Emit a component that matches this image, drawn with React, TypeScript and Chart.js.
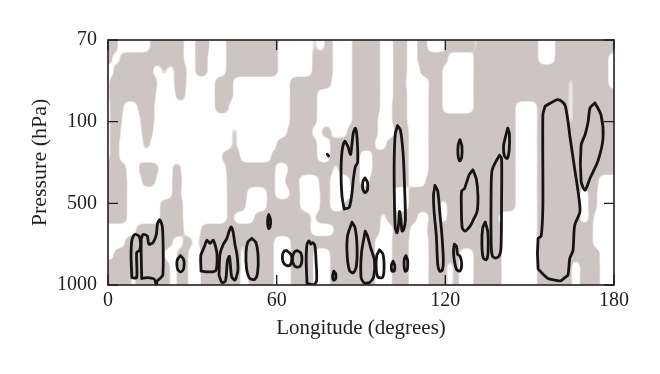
import React, { useEffect, useRef } from 'react';
import { Chart, registerables } from 'chart.js';

Chart.register(...registerables);

// ---------- data ----------
const lonTicks = [0, 60, 120, 180];
const pressureLabels = ['1000', '500', '100', '70']; // level 0..3 (bottom to top)

// shaded field: each row spans [top, top - 0.15] in level units; values are longitude intervals [a,b,a,b,...]
const rowTops = [3, 2.85, 2.7, 2.55, 2.4, 2.25, 2.1, 1.95, 1.8, 1.65, 1.5, 1.35, 1.2, 1.05, 0.9, 0.75, 0.6, 0.45, 0.3, 0.15];
const rowDepth = 0.15;
const grayRows: number[][] = [
  [0, 3.5, 15, 27, 31, 36, 42, 60.5, 72.6, 74.4, 77, 80, 86.8, 96.8, 101.4, 106.4, 110, 113.5, 120, 130, 131.6, 153, 159, 180],
  [0, 1.5, 4.3, 27, 31, 35.5, 42, 60.5, 72.6, 80, 86.8, 96.8, 101.4, 106.4, 110, 121, 130, 153, 159, 166, 167, 178],
  [2, 16, 19, 21, 23.5, 28, 31, 35.5, 42, 60.5, 72.6, 80, 86.8, 96.8, 101.4, 106.4, 111, 119, 130, 166, 167, 178],
  [0.5, 17.5, 23.5, 27.8, 38, 44.5, 64.7, 79.5, 86.8, 96.8, 101.4, 106, 114.2, 119, 130, 163.7, 165.5, 178],
  [0.5, 17, 24, 27.5, 38, 44.5, 64.7, 74.4, 86.8, 96.8, 101.4, 106.4, 114, 119, 130, 163.7, 165.5, 180],
  [0.7, 5.5, 10.5, 16.5, 38, 43, 64.7, 74.4, 86.8, 96.8, 101, 106.4, 114, 119, 130, 145, 152.6, 163.7, 165.5, 180],
  [0.7, 5, 11.5, 16.5, 64.7, 74.4, 86.8, 96, 101, 106.4, 114, 145, 152.6, 163.7, 165.5, 180],
  [0.7, 4.5, 12, 16, 44, 46, 63.7, 72.6, 76, 79.5, 85, 96, 102, 107, 114, 145, 152.6, 180],
  [0.7, 4, 12.5, 15, 44, 46, 60, 74.4, 79, 95, 99, 107, 114, 145, 152.6, 180],
  [0.7, 4, 9.5, 11, 40.5, 47, 58, 74.4, 79, 89.6, 94, 107, 114, 145, 152.6, 180],
  [0, 6.5, 11, 18, 23, 26, 42, 59.5, 64, 80, 82, 89.6, 94, 107, 114, 145, 152.6, 180],
  [0, 6.8, 12, 17, 22.8, 26.3, 42.3, 59.4, 63, 68, 75, 79, 86, 89.5, 93, 107, 113, 145, 152.6, 174.5],
  [0, 6.8, 22.8, 26, 42.3, 49.5, 56.5, 59.4, 64.7, 68.3, 75.4, 79, 86.8, 101.4, 107, 145, 152.6, 167.9, 170.8, 174],
  [0, 6.8, 18.5, 26.7, 42.3, 49, 56.5, 68.3, 75.4, 79, 84, 101.4, 107, 118, 120.6, 145, 152.6, 167.9, 170.8, 174],
  [0, 6.8, 18.5, 26.7, 42.3, 44.8, 52, 72, 74, 96.8, 99, 110, 114, 118, 120.6, 139, 152.6, 167.9, 170.8, 173],
  [10, 27, 33, 72, 80.4, 96.8, 101.4, 107.4, 113.5, 140, 152.6, 172.5],
  [6, 23, 26.7, 30, 32.4, 47, 48.4, 59, 65, 95, 101, 107, 114, 140, 152.6, 172.5],
  [2, 20, 24.5, 28.5, 33, 47, 49, 59, 65, 73, 79, 95, 101, 107, 114, 125, 130, 140, 152.6, 175],
  [0, 22, 24.5, 28.5, 33, 47, 49, 59, 65, 73, 79, 95, 101, 107, 114, 120.5, 122.7, 125, 130, 140, 152.6, 165, 167.9, 175],
  [0, 8, 10, 22, 24.5, 28.5, 33, 47, 50, 59, 65, 73, 79, 95, 101, 107, 114, 120.5, 122.7, 125, 130, 140, 152.6, 165, 167.9, 175],
];

// contours: [longitude, level]
const c1 = [[8.5, 0.09], [8.2, 0.35], [8.5, 0.55], [9.5, 0.62], [11, 0.6], [11.6, 0.5], [11.2, 0.42], [10.2, 0.4], [10.2, 0.09], [8.5, 0.09]];
const c2 = [[12, 0.08], [11.8, 0.55], [12.5, 0.62], [14, 0.6], [14.5, 0.5], [16, 0.52], [17.2, 0.62], [17.6, 0.75], [18.4, 0.8], [19.3, 0.72], [19.6, 0.5], [19.5, 0.12], [18.5, 0.08], [17.5, 0.05], [17.2, 0], [16.5, 0.07], [14, 0.09], [12, 0.08]];
const c3 = [[25.8, 0.36], [26.8, 0.32], [27.1, 0.26], [26.8, 0.19], [25.8, 0.16], [24.8, 0.19], [24.5, 0.26], [24.8, 0.32], [25.8, 0.36]];
const c4 = [[33.1, 0.17], [33, 0.36], [33.8, 0.43], [34.5, 0.49], [35.2, 0.55], [36.3, 0.51], [37.4, 0.55], [38.1, 0.49], [38.8, 0.37], [38.4, 0.18], [36, 0.16], [33.1, 0.17]];
const c5 = [[39.5, 0.12], [39.8, 0.37], [40.9, 0.49], [42.3, 0.57], [43, 0.65], [43.8, 0.71], [44.5, 0.65], [45.2, 0.49], [45.9, 0.37], [46.2, 0.18], [45.2, 0.06], [44, 0.1], [43.2, 0.35], [42.5, 0.3], [41.8, 0.05], [40.5, 0.03], [39.5, 0.12]];
const c6 = [[51.2, 0.57], [52.6, 0.52], [53.4, 0.35], [53.2, 0.15], [52.2, 0.07], [50.4, 0.08], [49.3, 0.2], [49.1, 0.4], [49.8, 0.53], [51.2, 0.57]];
const c7 = [[57.2, 0.86], [57.8, 0.8], [57.7, 0.72], [57.2, 0.69], [56.8, 0.75], [56.9, 0.83], [57.2, 0.86]];
const c8 = [[63.6, 0.42], [65, 0.38], [65.4, 0.31], [64.7, 0.24], [63.4, 0.24], [62.2, 0.29], [62.1, 0.37], [62.8, 0.42], [63.6, 0.42]];
const c9 = [[67.3, 0.42], [68.6, 0.39], [69, 0.31], [68.4, 0.23], [67, 0.22], [65.8, 0.27], [65.7, 0.35], [66.4, 0.41], [67.3, 0.42]];
const c10 = [[70.8, 0.02], [70.5, 0.3], [70.8, 0.5], [71.5, 0.54], [72.2, 0.5], [72.8, 0.52], [73.6, 0.48], [74, 0.3], [74.2, 0.05], [73, 0], [70.8, 0.02]];
const c11 = [[80.3, 0.17], [81, 0.14], [80.9, 0.07], [80.2, 0.06], [79.9, 0.11], [80.3, 0.17]];
const c12 = [[84, 0.93], [83.2, 1.1], [82.9, 1.4], [83.3, 1.65], [84.2, 1.76], [85.3, 1.7], [86.3, 1.6], [87.2, 1.85], [88, 1.92], [88.6, 1.8], [88.8, 1.5], [88, 1.45], [87.3, 1.3], [86.7, 1.1], [85.8, 0.95], [84, 0.93]];
const c13 = [[78, 1.6], [78.5, 1.58]];
const c14 = [[86.8, 0.77], [87.9, 0.7], [88.6, 0.46], [88.3, 0.22], [87.3, 0.15], [86, 0.17], [85.1, 0.35], [85.2, 0.6], [86.8, 0.77]];
const c15 = [[91.5, 0.66], [92.3, 0.6], [93.5, 0.45], [94.8, 0.3], [94.5, 0.1], [93, 0.03], [91, 0.03], [90, 0.1], [90.2, 0.4], [91.5, 0.66]];
const c16 = [[91.4, 1.31], [92.3, 1.26], [92.3, 1.16], [91.4, 1.13], [90.6, 1.18], [90.7, 1.27], [91.4, 1.31]];
const c17 = [[96.6, 0.43], [97.8, 0.38], [98.2, 0.2], [97.6, 0.09], [96, 0.1], [95.4, 0.2], [95.6, 0.36], [96.6, 0.43]];
const c18 = [[101.4, 0.29], [102, 0.24], [101.8, 0.17], [101, 0.17], [100.8, 0.24], [101.4, 0.29]];
const c19 = [[106, 0.36], [106.6, 0.3], [106.4, 0.18], [105.7, 0.17], [105.3, 0.25], [105.5, 0.33], [106, 0.36]];
const c20 = [[103, 1.95], [104, 1.9], [105, 1.6], [105.5, 1.2], [105.8, 0.8], [105.2, 0.68], [104.6, 0.66], [104.2, 0.8], [103.7, 0.9], [103.4, 0.75], [102.8, 0.64], [102.2, 0.7], [101.9, 1.0], [101.8, 1.5], [102.2, 1.85], [103, 1.95]];
const c21 = [[116.3, 1.22], [117.3, 1.15], [118, 0.9], [118.8, 0.6], [119.3, 0.3], [118.9, 0.18], [118, 0.17], [117.3, 0.25], [116.8, 0.6], [116, 0.9], [115.8, 1.1], [116.3, 1.22]];
const c22 = [[125.2, 1.78], [125.9, 1.7], [125.8, 1.56], [125.1, 1.52], [124.5, 1.6], [124.6, 1.72], [125.2, 1.78]];
const c23 = [[129.8, 1.41], [131, 1.3], [131.6, 1.1], [131.3, 0.9], [130, 0.8], [128.8, 0.72], [127, 0.66], [126, 0.7], [125.7, 0.95], [125.8, 1.15], [126.8, 1.18], [127.5, 1.25], [128.5, 1.35], [129.8, 1.41]];
const c24 = [[123.2, 0.5], [124, 0.47], [124.3, 0.38], [125.3, 0.35], [125.8, 0.25], [125.2, 0.17], [124, 0.19], [123.2, 0.3], [122.9, 0.42], [123.2, 0.5]];
const c25 = [[134.2, 0.77], [135.1, 0.65], [135.2, 0.4], [134.6, 0.31], [133.5, 0.33], [133, 0.5], [133.3, 0.7], [134.2, 0.77]];
const c26 = [[139.3, 1.59], [140, 1.55], [140, 1.0], [139.8, 0.45], [139.2, 0.36], [138, 0.33], [136.8, 0.35], [136.3, 0.5], [136.3, 1.2], [136.6, 1.4], [137.8, 1.5], [139.3, 1.59]];
const c27 = [[142.2, 1.92], [142.8, 1.85], [142.7, 1.65], [142, 1.55], [141, 1.58], [140.7, 1.7], [141.3, 1.8], [142.2, 1.92]];
const c28 = [[155.5, 2.19], [160.1, 2.27], [162.6, 2.2], [164.4, 1.8], [166.1, 1.4], [167.2, 1.15], [167.9, 0.9], [166, 0.73], [165.4, 0.42], [164.3, 0.33], [163.6, 0.12], [162.5, 0.09], [161, 0.05], [159, 0.06], [156.5, 0.08], [154, 0.16], [153, 0.2], [153, 0.57], [154.1, 0.6], [154.7, 0.98], [154.7, 2.08], [155.5, 2.19]];
const c29 = [[173.2, 2.23], [175.4, 2.08], [176.1, 1.8], [174.3, 1.52], [171.5, 1.31], [169.7, 1.16], [168.3, 1.27], [168.3, 1.71], [169.7, 1.84], [170.8, 2.0], [171.5, 2.17], [173.2, 2.23]];
const contours = [c1, c2, c3, c4, c5, c6, c7, c8, c9, c10, c11, c12, c13, c14, c15, c16, c17, c18, c19, c20, c21, c22, c23, c24, c25, c26, c27, c28, c29];

// ---------- styles ----------
const GRAY = [205, 197, 195];
const INK = '#231f20';
const FONT = "'Liberation Serif', 'DejaVu Serif', serif";
const SMOOTH = 3.5;

const shadingPlugin = {
  id: 'shading',
  beforeDatasetsDraw(chart: any) {
    const { ctx, chartArea, scales } = chart;
    const xs = scales.x;
    const ys = scales.y;
    const P = 14;
    const L = chartArea.left;
    const T = chartArea.top;
    const w = Math.round(chartArea.right - L);
    const h = Math.round(chartArea.bottom - T);
    const W = w + 2 * P;
    const H = h + 2 * P;
    const a = document.createElement('canvas');
    a.width = W; a.height = H;
    const actx = a.getContext('2d')!;
    actx.fillStyle = '#000';
    grayRows.forEach((row, i) => {
      let yTop = ys.getPixelForValue(rowTops[i]) - T + P;
      let yBot = ys.getPixelForValue(rowTops[i] - rowDepth) - T + P;
      if (i === 0) yTop = 0;
      if (i === grayRows.length - 1) yBot = H;
      for (let k = 0; k + 1 < row.length; k += 2) {
        let x1 = xs.getPixelForValue(row[k]) - L + P;
        let x2 = xs.getPixelForValue(row[k + 1]) - L + P;
        if (row[k] <= 0) x1 = 0;
        if (row[k + 1] >= 180) x2 = W;
        actx.fillRect(x1, yTop, x2 - x1, yBot - yTop);
      }
    });
    const b = document.createElement('canvas');
    b.width = W; b.height = H;
    const bctx = b.getContext('2d')!;
    bctx.filter = `blur(${SMOOTH}px)`;
    bctx.drawImage(a, 0, 0);
    bctx.filter = 'none';
    const img = bctx.getImageData(0, 0, W, H);
    const d = img.data;
    for (let p = 0; p < d.length; p += 4) {
      const al = d[p + 3];
      let o = (al - 108) * (255 / 40);
      if (o < 0) o = 0;
      if (o > 255) o = 255;
      d[p] = GRAY[0]; d[p + 1] = GRAY[1]; d[p + 2] = GRAY[2]; d[p + 3] = o;
    }
    bctx.putImageData(img, 0, 0);
    ctx.save();
    ctx.drawImage(b, P, P, w, h, L, T, w, h);
    ctx.restore();
  },
};

const framePlugin = {
  id: 'frame',
  afterDatasetsDraw(chart: any) {
    const { ctx, chartArea, scales } = chart;
    const { left, right, top, bottom } = chartArea;
    ctx.save();
    ctx.strokeStyle = INK;
    ctx.lineWidth = 1.6;
    ctx.strokeRect(left, top, right - left, bottom - top);
    const tl = 10;
    ctx.lineWidth = 1.4;
    ctx.beginPath();
    lonTicks.forEach((v) => {
      const x = scales.x.getPixelForValue(v);
      ctx.moveTo(x, bottom);
      ctx.lineTo(x, bottom - tl);
      ctx.moveTo(x, top);
      ctx.lineTo(x, top + tl);
    });
    pressureLabels.forEach((_, i) => {
      const y = scales.y.getPixelForValue(i);
      ctx.moveTo(left, y);
      ctx.lineTo(left + tl, y);
      ctx.moveTo(right, y);
      ctx.lineTo(right - tl, y);
    });
    ctx.stroke();
    ctx.restore();
  },
};

export default function App() {
  const ref = useRef<HTMLCanvasElement | null>(null);
  useEffect(() => {
    if (!ref.current) return;
    const datasets = contours.map((c) => ({
      type: 'scatter' as const,
      data: c.map(([x, y]) => ({ x, y })),
      showLine: true,
      borderColor: '#151515',
      borderWidth: 2.8,
      pointRadius: 0,
      tension: 0.25,
      fill: false,
      borderJoinStyle: 'round' as const,
      borderCapStyle: 'round' as const,
    }));
    const chart = new Chart(ref.current, {
      type: 'scatter',
      data: { datasets },
      options: {
        animation: false,
        responsive: false,
        layout: { padding: { top: 40, right: 46, left: 0, bottom: 0 } },
        plugins: { legend: { display: false }, tooltip: { enabled: false } },
        scales: {
          x: {
            type: 'linear',
            min: 0,
            max: 180,
            afterFit: (s: any) => { s.height = 89; },
            afterBuildTicks: (s: any) => { s.ticks = lonTicks.map((v) => ({ value: v })); },
            ticks: { color: INK, font: { family: FONT, size: 20 }, padding: 4, maxRotation: 0 },
            grid: { display: false, drawTicks: false },
            border: { display: false },
            title: { display: true, text: 'Longitude (degrees)', color: INK, font: { family: FONT, size: 21 }, padding: { top: 0, bottom: 33 } },
          },
          y: {
            type: 'linear',
            min: 0,
            max: 3,
            afterFit: (s: any) => { s.width = 108; },
            afterBuildTicks: (s: any) => { s.ticks = pressureLabels.map((_, i) => ({ value: i })); },
            ticks: { color: INK, font: { family: FONT, size: 20 }, padding: 11, callback: (v: any) => pressureLabels[v] },
            grid: { display: false, drawTicks: false },
            border: { display: false },
            title: { display: true, text: 'Pressure (hPa)', color: INK, font: { family: FONT, size: 22 }, padding: { top: 27, bottom: 0 } },
          },
        },
      },
      plugins: [shadingPlugin, framePlugin],
    });
    return () => chart.destroy();
  }, []);
  return (
    <div style={{ position: 'absolute', left: 0, top: 0, width: 660, height: 374, background: '#fff' }}>
      <canvas ref={ref} width={660} height={374} style={{ display: 'block' }} />
    </div>
  );
}
